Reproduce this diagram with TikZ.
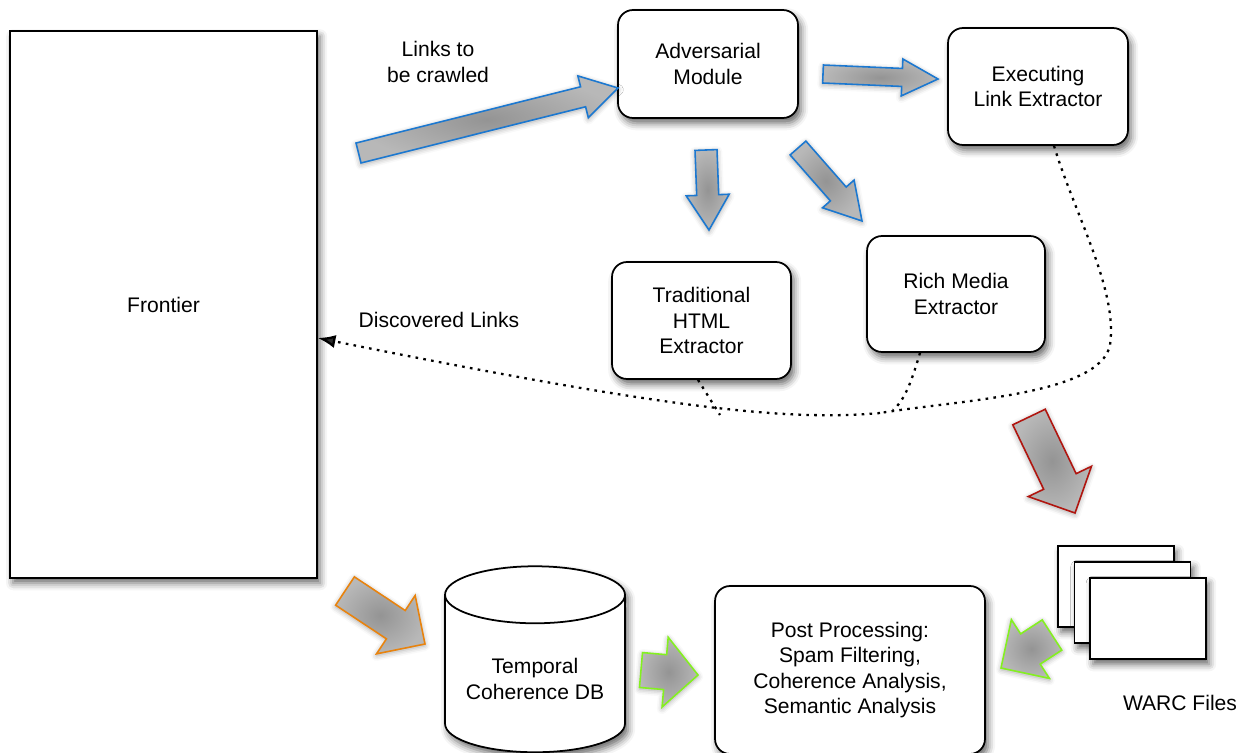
\documentclass[tikz,border=0pt]{standalone}
\usepackage{fontspec}
\setmainfont{Liberation Sans}
\usetikzlibrary{positioning,arrows.meta,calc,shapes.geometric,shadows.blur}
\definecolor{flowblue}{HTML}{1C78D0}
\definecolor{warcred}{HTML}{B0150F}
\definecolor{dborange}{HTML}{E8830E}
\definecolor{postgreen}{HTML}{84F020}

\tikzset{
  softshadow/.style={blur shadow={shadow xshift=1.8pt, shadow yshift=-3pt,
      shadow blur radius=4pt, shadow opacity=60}},
  box/.style={draw, line width=1pt, rounded corners=0.3cm, fill=white,
    align=center, inner sep=0pt, minimum width=3.6cm, minimum height=2.34cm, softshadow},
  sheet/.style={draw, line width=0.9pt, fill=white, inner sep=0pt,
    minimum width=2.32cm, minimum height=1.62cm, softshadow},
  fatarrow/.style={line width=0.9pt, inner color=black!42, outer color=black!28,
    blur shadow={shadow xshift=0pt, shadow yshift=-1pt, shadow blur radius=3pt, shadow opacity=35}},
  linkpath/.style={line width=1.3pt, dash pattern=on 1.5pt off 3pt},
}

% block arrow: colour, tail, tip, shaft half width, head half width, head length
\newcommand\blockarrow[6]{%
  \coordinate (neck) at ($(#3)!#6!(#2)$);
  \draw[fatarrow, draw=#1]
    ($(#2)!#4!90:(#3)$) -- ($(neck)!#4!90:(#3)$) -- ($(neck)!#5!90:(#3)$)
    -- (#3) -- ($(neck)!#5!-90:(#3)$) -- ($(neck)!#4!-90:(#3)$)
    -- ($(#2)!#4!-90:(#3)$) -- cycle;
}

\begin{document}
\begin{tikzpicture}[x=0.02cm, y=-0.02cm, >=Latex, font=\fontsize{12}{14.5}\selectfont]
  \useasboundingbox (0,0) rectangle (1246,753);

  % crawler parts
  \node[draw, line width=1pt, fill=white, minimum width=6.14cm, minimum height=10.94cm,
    softshadow] (frontier) at (163.5,304.5) {Frontier};
  \node[box, minimum height=2.16cm] (adv) at (708,64) {Adversarial\\Module};
  \node[box] (exec) at (1038,86.5) {Executing\\Link Extractor};
  \node[box, minimum width=3.58cm] (trad) at (701.5,320.5) {Traditional\\HTML\\Extractor};
  \node[box, minimum width=3.56cm, minimum height=2.32cm] (rich) at (956,294) {Rich Media\\Extractor};

  % storage and analysis
  \node[cylinder, shape border rotate=90, aspect=0.38, draw, line width=1pt, fill=white,
    minimum width=3.6cm, minimum height=3.72cm, align=center, softshadow] (tcdb) at (535,679)
    {Temporal\\Coherence DB};
  \node[box, minimum width=5.4cm, minimum height=3.36cm] (post) at (850,670)
    {Post Processing:\\Spam Filtering,\\Coherence Analysis,\\Semantic Analysis};
  \node[sheet] (warc1) at (1116,586.5) {};
  \node[sheet] (warc2) at (1132.5,602.5) {};
  \node[sheet] (warc3) at (1148,618.5) {};

  \node[align=center] (crawllbl) at (438,62) {Links to\\be crawled};
  \node (disclbl) at (439,320) {Discovered Links};
  \node (warclbl) at (1180,703) {WARC Files};

  % arrow ends
  \coordinate (a1s) at (358.5,153); \coordinate (a1e) at (618,88);
  \coordinate (a2s) at (823,74);    \coordinate (a2e) at (938,79);
  \coordinate (a3s) at (706,150);   \coordinate (a3e) at (709,230);
  \coordinate (a4s) at (798,148);   \coordinate (a4e) at (862,221);
  \coordinate (a5s) at (1029,417);  \coordinate (a5e) at (1075,513);
  \coordinate (a6s) at (345,591);   \coordinate (a6e) at (425,644);
  \coordinate (a7s) at (641,670);   \coordinate (a7e) at (698,675);
  \coordinate (a8s) at (1052,635);  \coordinate (a8e) at (1001,668);

  \blockarrow{flowblue}{a1s}{a1e}{0.206cm}{0.43cm}{0.72cm}
  \blockarrow{flowblue}{a2s}{a2e}{0.18cm}{0.37cm}{0.72cm}
  \blockarrow{flowblue}{a3s}{a3e}{0.22cm}{0.43cm}{0.7cm}
  \blockarrow{flowblue}{a4s}{a4e}{0.21cm}{0.42cm}{0.72cm}
  \blockarrow{warcred}{a5s}{a5e}{0.36cm}{0.7cm}{0.7cm}
  \blockarrow{dborange}{a6s}{a6e}{0.34cm}{0.7cm}{0.7cm}
  \blockarrow{postgreen}{a7s}{a7e}{0.35cm}{0.7cm}{0.66cm}
  \blockarrow{postgreen}{a8s}{a8e}{0.36cm}{0.7cm}{0.7cm}

  % discovered links back to the frontier
  \coordinate (join) at (880,413);
  \draw[linkpath] (exec.south -| 1054,0) .. controls (1075,215) and (1118,290) .. (1110,345)
    .. controls (1100,395) and (960,400) .. (join);
  \draw[linkpath, -{Latex[length=10pt,width=7.5pt]}] (join) .. controls (780,422) and (650,405)
    .. (frontier.east |- 0,338);
  \draw[linkpath] (rich.south -| 920,0) .. controls (912,380) and (905,400) .. (893,410);
  \draw[linkpath] (trad.south -| 698,0) -- (720,415);
\end{tikzpicture}
\end{document}
